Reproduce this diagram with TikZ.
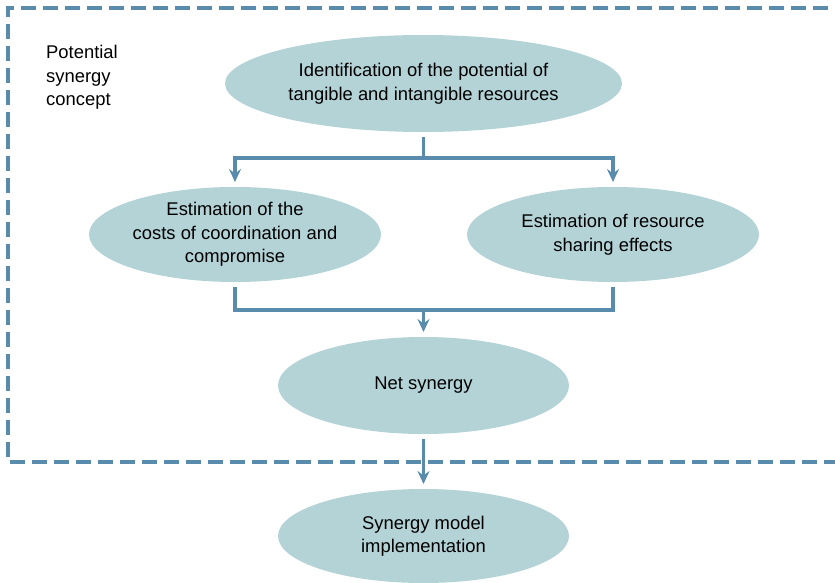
\documentclass[tikz,border=0pt]{standalone}
\usepackage{fontspec}
\setmainfont{Liberation Sans}
\usetikzlibrary{arrows.meta,shapes.geometric}
\definecolor{linec}{RGB}{88,139,172}
\definecolor{fillc}{RGB}{179,211,215}
\begin{document}
\begin{tikzpicture}[x=1pt,y=-1pt,
  txt/.style={font=\fontsize{18.4}{23.5}\selectfont},
  box/.style={ellipse, fill=fillc, draw=none, inner sep=-8pt, outer sep=0pt, align=center, txt},
  conn/.style={draw=linec, line width=3.4pt},
  arr/.style={conn, -{Stealth[length=13pt,width=12pt,inset=4.5pt]}}]
\path[use as bounding box] (0,0) rectangle (835,583);
\draw[linec, line width=3.2pt, dash pattern=on 15pt off 7pt] (850,8) -- (8,8) -- (8,462) -- (850,462);
\node[txt, align=left, anchor=north west, inner sep=0pt] (lbl) at (46,45) {Potential\\synergy\\concept};
\node[box, minimum width=397pt, minimum height=97pt] (e1) at (423.5,83.5) {Identification of the potential of\\tangible and intangible resources};
\node[box, minimum width=292pt, minimum height=95pt] (e2) at (235,234.5) {Estimation of the\\costs of coordination and\\compromise};
\node[box, minimum width=292pt, minimum height=95pt] (e3) at (613,234.5) {Estimation of resource\\sharing effects};
\node[box, minimum width=291pt, minimum height=97pt] (e4) at (423.5,385.5) {Net synergy};
\node[box, minimum width=291pt, minimum height=94pt] (e5) at (423.5,536) {Synergy model\\implementation};
\coordinate (j1) at (423.5,158);
\coordinate (j2) at (423.5,310);
\draw[conn, shorten <=5pt] (e1.south) -- (j1);
\draw[arr, shorten >=5pt] (j1) -| (e2.north);
\draw[arr, shorten >=5pt] (j1) -| (e3.north);
\draw[conn, shorten <=5pt] (e2.south) |- (j2);
\draw[conn, shorten <=5pt] (e3.south) |- (j2);
\draw[arr, shorten >=5pt] (j2) -- (e4.north);
\draw[arr, shorten <=5pt, shorten >=5pt] (e4.south) -- (e5.north);
\end{tikzpicture}
\end{document}
